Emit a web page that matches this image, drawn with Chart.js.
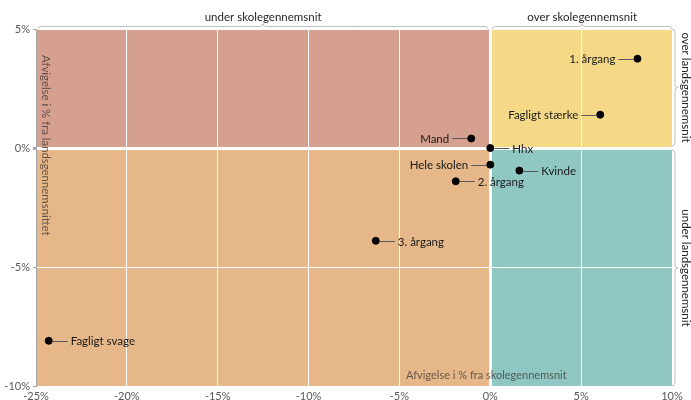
<!DOCTYPE html>
<html>
<head>
<meta charset="utf-8">
<script src="https://cdn.jsdelivr.net/npm/chart.js@4"></script>
<style>
  body { margin: 0; background: #fff; }
  #wrap { width: 691px; height: 400px; }
</style>
</head>
<body>
<div id="wrap"><canvas id="quadChart"></canvas></div>
<script>
// data (percent deviations)
const pointLabels = ["1. årgang", "Fagligt stærke", "Mand", "Hhx", "Hele skolen", "Kvinde", "2. årgang", "3. årgang", "Fagligt svage"];
const schoolDev = [8.1, 6.05, -1.05, 0, 0, 1.6, -1.9, -6.3, -24.3];
const nationalDev = [3.75, 1.4, 0.4, 0, -0.7, -0.95, -1.4, -3.9, -8.1];
const labelSide = ["left", "left", "left", "right", "left", "right", "right", "right", "right"];
const topBands = ["under skolegennemsnit", "over skolegennemsnit"];
const sideBands = ["over landsgennemsnit", "under landsgennemsnit"];

const FONT = "Lato, 'Noto Sans', sans-serif";

/* ============================================
   QUADRANT BACKGROUND + BRACES + LABELS
   ============================================ */

const quadrants = {
    id: "quadrants",
    beforeDraw(chart) {
        const { ctx, chartArea: a, scales: { x, y } } = chart;
        const x0 = x.getPixelForValue(0), y0 = y.getPixelForValue(0);
        ctx.save();
        ctx.fillStyle = "#D6A090"; ctx.fillRect(a.left, a.top, x0 - a.left, y0 - a.top);
        ctx.fillStyle = "#F5D987"; ctx.fillRect(x0, a.top, a.right - x0, y0 - a.top);
        ctx.fillStyle = "#E6B789"; ctx.fillRect(a.left, y0, x0 - a.left, a.bottom - y0);
        ctx.fillStyle = "#8FC7C3"; ctx.fillRect(x0, y0, a.right - x0, a.bottom - y0);
        ctx.restore();
    },
    afterDraw(chart) {
        const { ctx, chartArea: a, scales: { x, y } } = chart;
        const x0 = x.getPixelForValue(0), y0 = y.getPixelForValue(0);
        ctx.save();
        ctx.strokeStyle = "#BFBFBF";
        ctx.lineWidth = 1;

        // horizontal braces on top
        function hBrace(l, r, by) {
            const m = (l + r) / 2;
            ctx.beginPath();
            ctx.moveTo(l, by + 3);
            ctx.quadraticCurveTo(l, by, l + 3, by);
            ctx.lineTo(m - 3, by);
            ctx.quadraticCurveTo(m, by, m, by - 3);
            ctx.quadraticCurveTo(m, by, m + 3, by);
            ctx.lineTo(r - 3, by);
            ctx.quadraticCurveTo(r, by, r, by + 3);
            ctx.stroke();
            return m;
        }
        // vertical braces on the right
        function vBrace(t, b, bx) {
            const m = (t + b) / 2;
            ctx.beginPath();
            ctx.moveTo(bx - 3, t);
            ctx.quadraticCurveTo(bx, t, bx, t + 3);
            ctx.lineTo(bx, m - 3);
            ctx.quadraticCurveTo(bx, m, bx + 3, m);
            ctx.quadraticCurveTo(bx, m, bx, m + 3);
            ctx.lineTo(bx, b - 3);
            ctx.quadraticCurveTo(bx, b, bx - 3, b);
            ctx.stroke();
            return m;
        }

        ctx.fillStyle = "#262626";
        ctx.font = "11.5px " + FONT;
        ctx.textAlign = "center";
        ctx.textBaseline = "middle";
        const by = a.top - 2.5;
        const m1 = hBrace(a.left + 2, x0 - 2, by);
        const m2 = hBrace(x0 + 2, a.right, by);
        ctx.fillText(topBands[0], m1, 17);
        ctx.fillText(topBands[1], m2, 17);

        const bx = a.right + 3;
        const v1 = vBrace(a.top, y0 - 2, bx);
        const v2 = vBrace(y0 + 2, a.bottom, bx);
        [[v1, sideBands[0]], [v2, sideBands[1]]].forEach(function (p) {
            ctx.save();
            ctx.translate(bx + 11, p[0]);
            ctx.rotate(Math.PI / 2);
            ctx.fillText(p[1], 0, 0);
            ctx.restore();
        });

        // axis titles inside the plot
        ctx.fillStyle = "rgba(70,60,55,0.8)";
        ctx.font = "11.4px " + FONT;
        ctx.textAlign = "left";
        ctx.save();
        ctx.translate(a.left + 10, a.top + 26);
        ctx.rotate(Math.PI / 2);
        ctx.fillText("Afvigelse i % fra landsgennemsnittet", 0, 0);
        ctx.restore();
        ctx.font = "11px " + FONT;
        ctx.fillText("Afvigelse i % fra skolegennemsnit", 406, a.bottom - 11);
        ctx.restore();
    },
    afterDatasetsDraw(chart) {
        const { ctx } = chart;
        const pts = chart.getDatasetMeta(0).data;
        ctx.save();
        ctx.font = "11.5px " + FONT;
        ctx.textBaseline = "middle";
        ctx.lineWidth = 1;
        ctx.strokeStyle = "#595959";
        ctx.fillStyle = "#1a1a1a";
        pts.forEach(function (p, i) {
            const dir = labelSide[i] === "left" ? -1 : 1;
            ctx.beginPath();
            ctx.moveTo(p.x + dir * 4, Math.round(p.y) + 0.5);
            ctx.lineTo(p.x + dir * 19, Math.round(p.y) + 0.5);
            ctx.stroke();
            ctx.textAlign = dir < 0 ? "right" : "left";
            ctx.fillText(pointLabels[i], p.x + dir * 22, p.y + 1);
        });
        ctx.restore();
    }
};

/* ============================================
   SCATTER CHART
   ============================================ */

document.addEventListener("DOMContentLoaded", function () {

    const ctx = document.getElementById("quadChart");

    new Chart(ctx, {
        type: "scatter",
        data: {
            datasets: [{
                label: "Afvigelse",
                data: schoolDev.map(function (v, i) { return { x: v, y: nationalDev[i] }; }),
                backgroundColor: "#000",
                borderColor: "#000",
                pointRadius: 3.5,
                pointHoverRadius: 3.5
            }]
        },
        plugins: [quadrants],
        options: {
            responsive: true,
            maintainAspectRatio: false,
            animation: false,
            layout: { padding: { top: 29, right: 19, left: 0, bottom: 0 } },
            plugins: {
                legend: { display: false },
                tooltip: { enabled: false }
            },
            scales: {
                x: {
                    min: -25,
                    max: 10,
                    afterFit: function (s) { s.height = 14; },
                    border: { display: false },
                    grid: {
                        drawTicks: false,
                        color: "#fff",
                        lineWidth: function (c) { return c.tick && c.tick.value === 0 ? 3 : 1; }
                    },
                    ticks: {
                        stepSize: 5,
                        padding: 4,
                        color: "#595959",
                        font: { family: FONT, size: 11 },
                        callback: function (v) { return v + "%"; }
                    }
                },
                y: {
                    min: -10,
                    max: 5,
                    afterFit: function (s) { s.width = 36; },
                    border: { display: true, color: "#A6A6A6" },
                    grid: {
                        color: "#fff",
                        tickColor: "#A6A6A6",
                        tickLength: 3,
                        lineWidth: function (c) { return c.tick && c.tick.value === 0 ? 3 : 1; }
                    },
                    ticks: {
                        stepSize: 5,
                        padding: 3,
                        color: "#595959",
                        font: { family: FONT, size: 11 },
                        callback: function (v) { return v + "%"; }
                    }
                }
            }
        }
    });
});
</script>
</body>
</html>
